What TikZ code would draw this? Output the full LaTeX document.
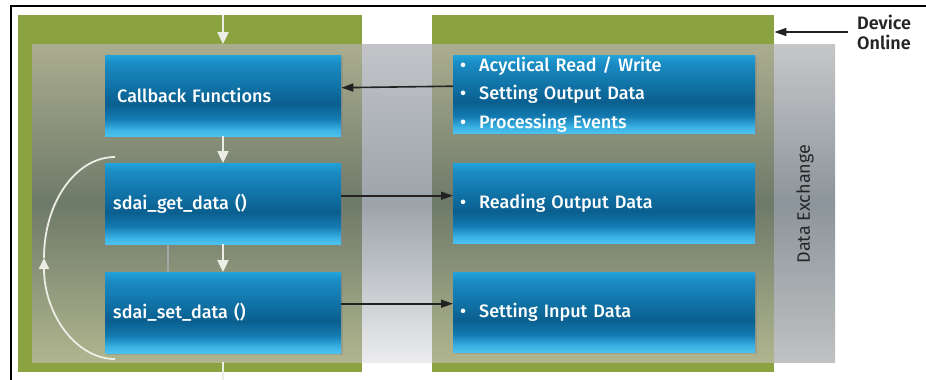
\documentclass[tikz,border=0pt]{standalone}
\usepackage{fontspec}
\IfFontExistsTF{Fira Sans Medium}
  {\setmainfont{Fira Sans Medium}}
  {\setmainfont{Fira Sans}[FakeBold=1.2]}
\newfontfamily\plainfont{Fira Sans}
\IfFontExistsTF{Fira Sans SemiBold}
  {\newfontfamily\labelfont{Fira Sans SemiBold}}
  {\newfontfamily\labelfont{Fira Sans}[FakeBold=1.6]}
\usetikzlibrary{arrows.meta,shadows}

\definecolor{panelgreen}{HTML}{8AA23F}
\definecolor{bandtop}{HTML}{ABAD8F}
\definecolor{bandmid}{HTML}{6E7A69}
\definecolor{bandbot}{HTML}{B0B58E}
\definecolor{gaptop}{HTML}{C2C4C8}
\definecolor{gapmid}{HTML}{9CA4AA}
\definecolor{gapbot}{HTML}{ECECEE}
\definecolor{sidetop}{HTML}{C6C7C9}
\definecolor{sidemid}{HTML}{8C959B}
\definecolor{sidebot}{HTML}{C0C1C2}
\definecolor{boxbright}{HTML}{22A2DA}
\definecolor{boxupper}{HTML}{1A8CC4}
\definecolor{boxdark}{HTML}{0A5F8F}
\definecolor{boxlowmid}{HTML}{137AB0}
\definecolor{boxlow}{HTML}{3AB2E4}
\definecolor{boxedge}{HTML}{4EC2EE}
\definecolor{arrowwhite}{HTML}{ECEEE6}
\definecolor{darkarrow}{HTML}{222222}

% blue function boxes: bright rim on top, dark core, bright lower edge
% (the node is mapped onto the 25bp--75bp part of the shading)
\pgfdeclareverticalshading{bluebox}{100bp}{%
  color(0bp)=(boxedge); color(25bp)=(boxedge); color(29bp)=(boxlow);
  color(36bp)=(boxlowmid); color(45bp)=(boxdark); color(70bp)=(boxupper);
  color(75bp)=(boxbright); color(100bp)=(boxbright)}

\tikzset{
  panel/.style={rectangle, fill=panelgreen, draw=none, anchor=north west, inner sep=0pt},
  bandpart/.style={rectangle, draw=none, anchor=north west, inner sep=0pt, minimum height=318pt},
  overgreen/.style={bandpart, top color=bandtop, bottom color=bandbot, middle color=bandmid},
  fnbox/.style={rectangle, shading=bluebox, anchor=north west, inner xsep=8pt,
    inner ysep=0pt, text=white, align=left, font=\fontsize{18}{21}\selectfont,
    drop shadow={shadow xshift=1.5pt, shadow yshift=-2pt, opacity=0.35}},
  leftbox/.style={fnbox, text width=220pt, minimum height=81pt},
  rightbox/.style={fnbox, inner xsep=7pt, text width=288pt, minimum height=80pt},
  whitearrow/.style={draw=arrowwhite, line width=2.4pt,
    -{Triangle[width=11pt,length=12pt]}},
  blackarrow/.style={draw=darkarrow, line width=1.6pt,
    -{Triangle[width=8pt,length=12pt]}},
}
\newcommand{\bulletitem}[1]{\makebox[19pt][l]{\textbullet}#1}

\begin{document}
\begin{tikzpicture}[x=1pt,y=-1pt]
\useasboundingbox (0,0) rectangle (926,380);
\fill[white] (0,0) rectangle (926,380);

% frame lines
\draw[line width=2pt, black] (11,380) -- (11,6) -- (926,6);

% green process panels
\node[panel, minimum width=344pt, minimum height=357pt] (lpanel) at (18,15) {};
\node[panel, minimum width=342pt, minimum height=357pt] (rpanel) at (432,15) {};

% data exchange band
\node[overgreen, minimum width=330pt] (bandl) at (32,44) {};
\node[bandpart, minimum width=70pt, top color=gaptop, bottom color=gapbot, middle color=gapmid] (bandg) at (362,44) {};
\node[overgreen, minimum width=342pt] (bandr) at (432,44) {};
\node[bandpart, minimum width=61pt, top color=sidetop, bottom color=sidebot, middle color=sidemid] (bands) at (774,44) {};
\node[rotate=90, text=black!85, font=\plainfont\fontsize{18}{21}\selectfont] (dx) at (805,204) {Data Exchange};

% cyclic loop
\draw[arrowwhite, line width=1.8pt, -{Triangle[width=10pt,length=11pt]}]
  (115,359) arc[start angle=90, end angle=180, x radius=71, y radius=101];
\draw[arrowwhite, line width=1.8pt]
  (44,258) arc[start angle=180, end angle=270, x radius=71, y radius=101];

% thin separator
\coordinate (sepa) at (168,244);
\coordinate (sepb) at (168,272);
\draw[gray!70, line width=1.6pt] (sepa) -- (sepb);

% function boxes
\node[leftbox] (cb) at (105,55) {\hspace*{4pt}Callback Functions};
\node[leftbox] (get) at (105,163) {sdai\_get\_data ()};
\node[leftbox] (set) at (105,272) {sdai\_set\_data ()};

\node[rightbox, minimum height=78pt, font=\fontsize{18}{28.5}\selectfont] (acts) at (453,55)
  {\bulletitem{Acyclical Read / Write}\\\bulletitem{Setting Output Data}\\\bulletitem{Processing Events}};
\node[rightbox] (rout) at (453,163) {\bulletitem{Reading Output Data}};
\node[rightbox] (sin) at (453,272) {\bulletitem{Setting Input Data}};

% program flow
\coordinate (entry) at (223,15);
\coordinate (exit) at (223,380);
\draw[whitearrow] (entry) -- (bandl.north -| entry);
\draw[whitearrow] (cb.south -| entry) -- (get.north -| entry);
\draw[whitearrow] (get.south -| entry) -- (set.north -| entry);
\draw[arrowwhite, line width=2.4pt] (bandl.south -| entry) -- (exit);

% data flow
\draw[blackarrow] ([yshift=8pt]acts.west) -- ([yshift=8pt]cb.east);
\draw[blackarrow] ([yshift=8pt]get.east) -- ([yshift=8pt]get.east -| rout.west);
\draw[blackarrow] ([yshift=9pt]set.east) -- ([yshift=9pt]set.east -| sin.west);

% device online marker
\node[anchor=west, align=left, inner sep=0pt, font=\labelfont\fontsize{18}{20}\selectfont, text=black!85] (dev) at (857,32) {Device\\Online};
\coordinate (devtail) at (848,32);
\draw[blackarrow] (devtail) -- (devtail -| rpanel.east);
\end{tikzpicture}
\end{document}
